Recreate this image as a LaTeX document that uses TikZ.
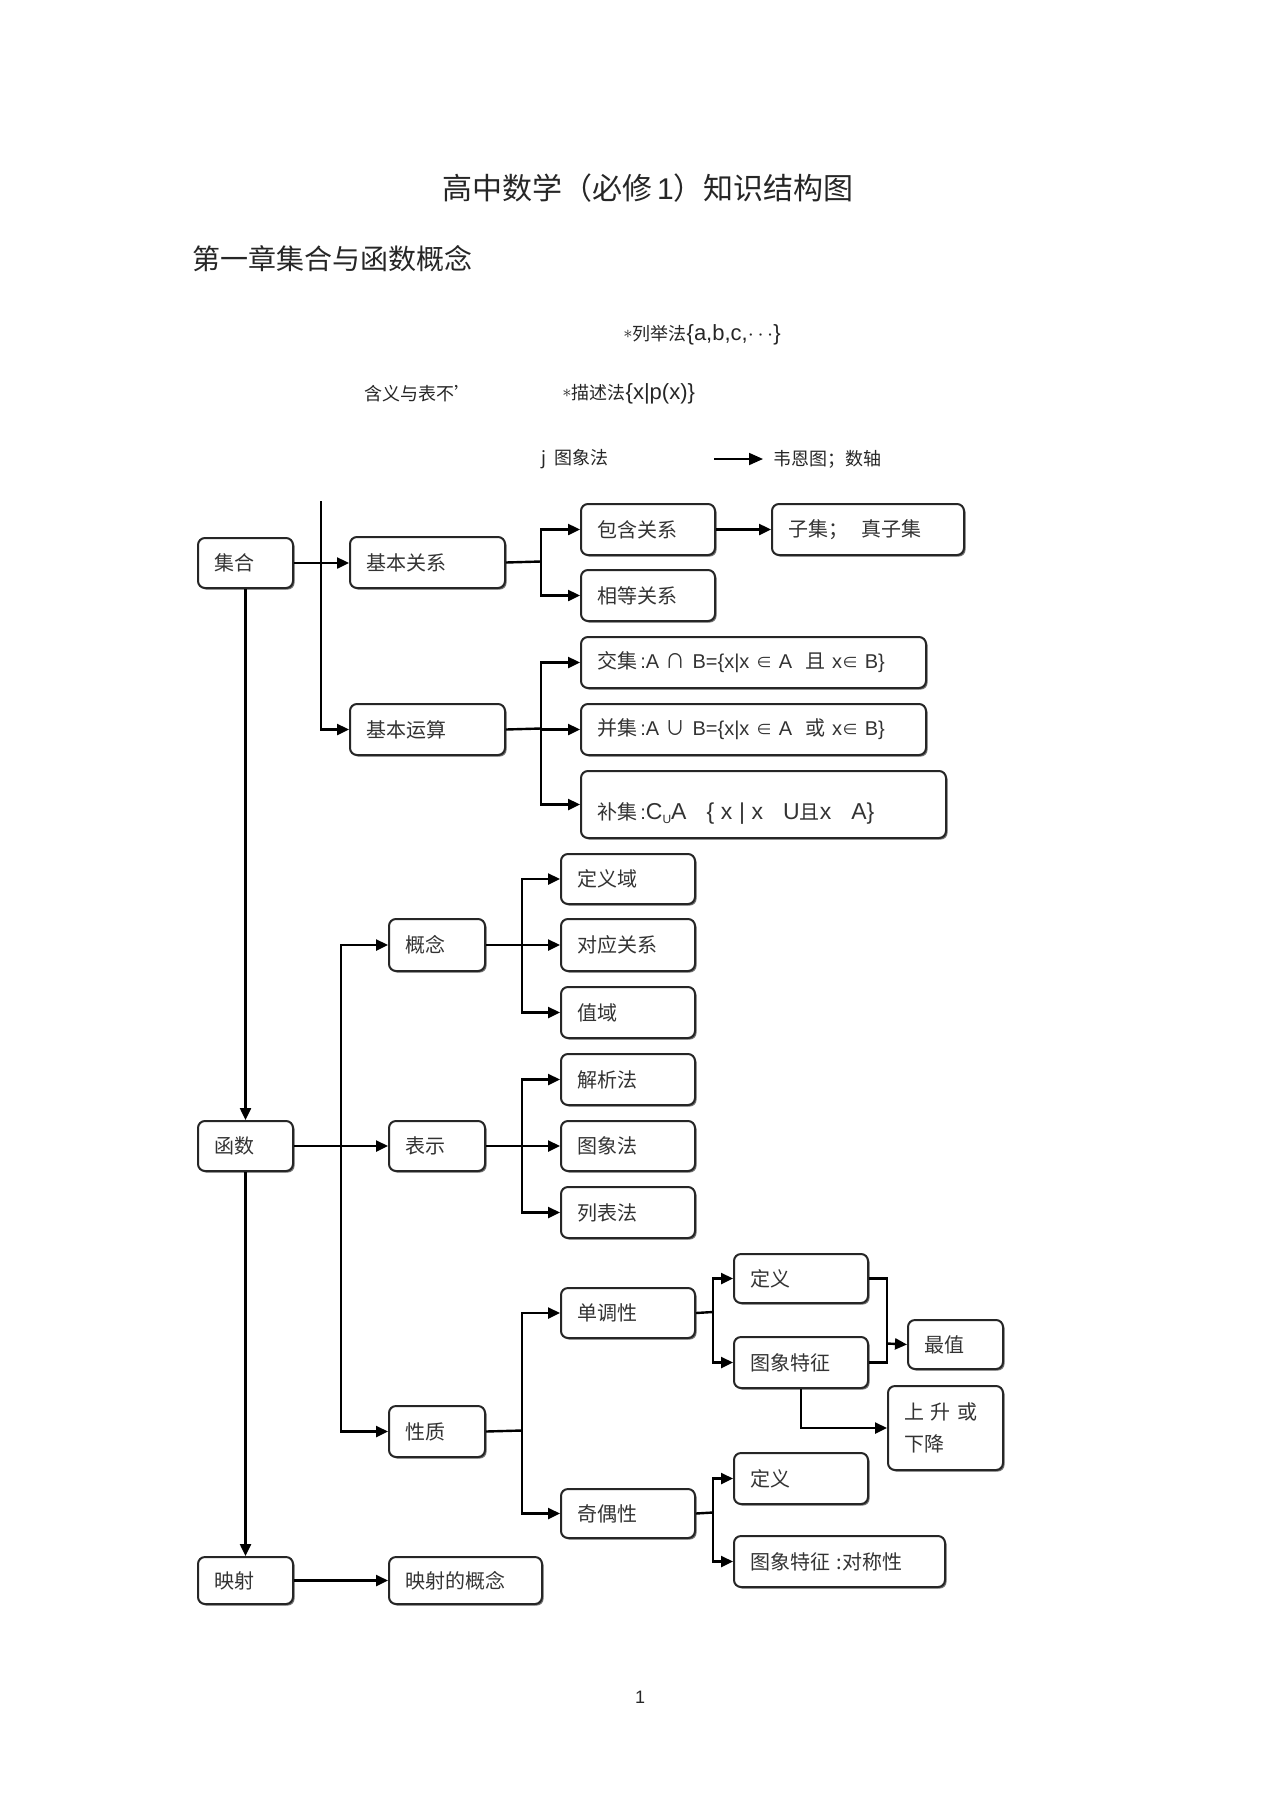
\documentclass[tikz,border=0pt]{standalone}
\usepackage{fontspec}
\setmainfont{Noto Sans CJK SC}
\newfontfamily\lat{Liberation Sans}
\usetikzlibrary{arrows.meta,shadows}
\newcommand\fs[1]{\fontsize{#1}{#1}\selectfont}
\newcommand\elem{{\fs{8}∈}}
\newcommand\mybox[7][]{%
  \pgfmathsetmacro\bxw{(#5-#3)*0.5-16}%
  \pgfmathsetmacro\bxh{(#6-#4)*0.5}%
  \node[bx,#1,text width=\bxw pt,minimum height=\bxh pt,anchor=north west] (#2) at (#3,#4) {#7};}
\begin{document}
\begin{tikzpicture}[x=0.5pt,y=-0.5pt,
  bx/.style={draw=black!85, line width=1pt, rounded corners=3.5pt, fill=white, align=left,
    inner xsep=8pt, inner ysep=0pt, font=\fontsize{10}{16}\selectfont, text=black!80,
    drop shadow={shadow xshift=0.8pt, shadow yshift=-0.8pt, fill=black!55, opacity=1}},
  arr/.style={line width=1.2pt, -{Triangle[length=6pt,width=5.5pt]}},
  ln/.style={line width=1.2pt},
  lbl/.style={inner sep=0pt, anchor=west, text=black!85}]
\path[use as bounding box, fill=white] (0,0) rectangle (1274,1804);

% titles
\node[text=black!85] (title) at (648,188) {\fs{15}高中数学（必修\,{\lat 1}）知识结构图};
\node[lbl] (chap) at (192,259) {\fs{14}第一章集合与函数概念};

% top loose texts
\node[lbl] (lj) at (623,335) {\fs{9}\raisebox{1pt}{$\ast$}列举法{\lat\fs{11}\{a,b,c,$\cdots$\}}};
\node[lbl] (hy) at (364,394) {\fs{9}含义与表不’};
\node[lbl] (ms) at (562,394) {\fs{9}\raisebox{1pt}{$\ast$}描述法{\lat\fs{11}\{x|p(x)\}}};
\node[lbl] (tx) at (541,459) {\fs{9}j\ \ 图象法};
\node[lbl] (wn) at (773,459) {\fs{9}韦恩图；数轴};
\coordinate (aS) at (714,459);
\draw[line width=0.9pt, -{Triangle[length=7pt,width=6pt]}] (aS) -- ([xshift=-5pt]wn.west);

% sets part
\mybox{jh}{197}{537}{292}{587}{集合}
\mybox{jbgx}{349}{536}{504}{587}{基本关系}
\mybox{jbys}{349}{703}{504}{754}{基本运算}
\mybox{bh}{580}{503}{714}{554}{包含关系}
\mybox{xd}{580}{569}{714}{620}{相等关系}
\mybox{zj}{771}{503}{963}{554}{子集；\ \ 真子集}
\mybox{jj}{580}{636}{925}{687}{交集{\lat\,:A} ∩ {\lat B=\{x|x}\ \elem\ {\lat A}\ \ 且 {\lat x}\elem\ {\lat B\}}}
\mybox{bj}{580}{703}{925}{754}{并集{\lat\,:A} ∪ {\lat B=\{x|x}\ \elem\ {\lat A}\ \ 或 {\lat x}\elem\ {\lat B\}}}
\mybox[text height=17pt]{bu}{580}{770}{945}{837}{补集{\lat\,:\fs{11.5}C\raisebox{-2pt}{\fs{6}U}A\ \ \ \{ x | x\ \ \ U}且{\lat\fs{11.5}x\ \ \ A\}}}

% functions part
\mybox{hs}{197}{1120}{292}{1170}{函数}
\mybox{ys}{197}{1556}{292}{1603}{映射}
\mybox{gn}{388}{918}{484}{970}{概念}
\mybox{bs}{388}{1120}{484}{1170}{表示}
\mybox{xz}{388}{1405}{484}{1456}{性质}
\mybox{dyy}{560}{853}{694}{903}{定义域}
\mybox{dygx}{560}{918}{694}{970}{对应关系}
\mybox{zy}{560}{986}{694}{1037}{值域}
\mybox{jxf}{560}{1053}{694}{1104}{解析法}
\mybox{txf}{560}{1120}{694}{1170}{图象法}
\mybox{lbf}{560}{1186}{694}{1237}{列表法}
\mybox{ddx}{560}{1287}{694}{1337}{单调性}
\mybox{jox}{560}{1488}{694}{1537}{奇偶性}
\mybox{dy1}{733}{1253}{867}{1302}{定义}
\mybox{tz1}{733}{1336}{867}{1387}{图象特征}
\mybox{zz}{907}{1319}{1002}{1368}{最值}
\mybox{ss}{887}{1385}{1002}{1469}{上\ 升\ 或\\下降}
\mybox{dy2}{733}{1452}{867}{1503}{定义}
\mybox{tz2}{733}{1535}{944}{1586}{图象特征\ :对称性}
\mybox{ysgn}{388}{1556}{541}{1603}{映射的概念}

% connectors: sets
\coordinate (vtop) at (321,501);
\draw[arr] (jh.east) -- (jh.east -| jbgx.west);
\draw[arr] (vtop) |- (jbys.west);
\coordinate (j1) at (541,561.5);
\draw[ln] (jbgx.east) -- (j1);
\draw[arr] (j1) |- (bh.west);
\draw[arr] (j1) |- (xd.west);
\draw[arr] (bh.east) -- (zj.west);
\coordinate (j2) at (541,728.5);
\draw[ln] (jbys.east) -- (j2);
\draw[arr] (j2) |- (jj.west);
\draw[arr] (j2) |- (bj.west);
\draw[arr] (j2) |- (bu.west);

% connectors: main column
\draw[arr] (jh.south) -- (hs.north);
\draw[arr] (hs.south) -- (ys.north);
\draw[arr] (ys.east) -- (ys.east -| ysgn.west);

% function branches
\coordinate (j3) at (341,1145);
\draw[arr] (hs.east) -- (hs.east -| bs.west);
\draw[arr] (j3) |- (gn.west);
\draw[arr] (j3) |- (xz.west);

\coordinate (j4) at (522,944);
\draw[arr] (gn.east) -- (dygx.west);
\draw[arr] (j4) |- (dyy.west);
\draw[arr] (j4) |- (zy.west);

\coordinate (j5) at (522,1145);
\draw[arr] (bs.east) -- (txf.west);
\draw[arr] (j5) |- (jxf.west);
\draw[arr] (j5) |- (lbf.west);

\coordinate (j6) at (522,1430.5);
\draw[ln] (xz.east) -- (j6);
\draw[arr] (j6) |- (ddx.west);
\draw[arr] (j6) |- (jox.west);

\coordinate (j7) at (713,1312);
\draw[ln] (ddx.east) -- (j7);
\draw[arr] (j7) |- (dy1.west);
\draw[arr] (j7) |- (tz1.west);

\coordinate (j8) at (887,1343.5);
\draw[ln] (dy1.east) -| (j8);
\draw[ln] (tz1.east) -| (j8);
\draw[arr] (j8) -- (zz.west);
\draw[arr] (tz1.south) |- (ss.west);

\coordinate (j9) at (713,1512.5);
\draw[ln] (jox.east) -- (j9);
\draw[arr] (j9) |- (dy2.west);
\draw[arr] (j9) |- (tz2.west);

% page number
\node[text=black!85] (pg) at (640,1697) {\lat\fs{9}1};
\end{tikzpicture}
\end{document}
